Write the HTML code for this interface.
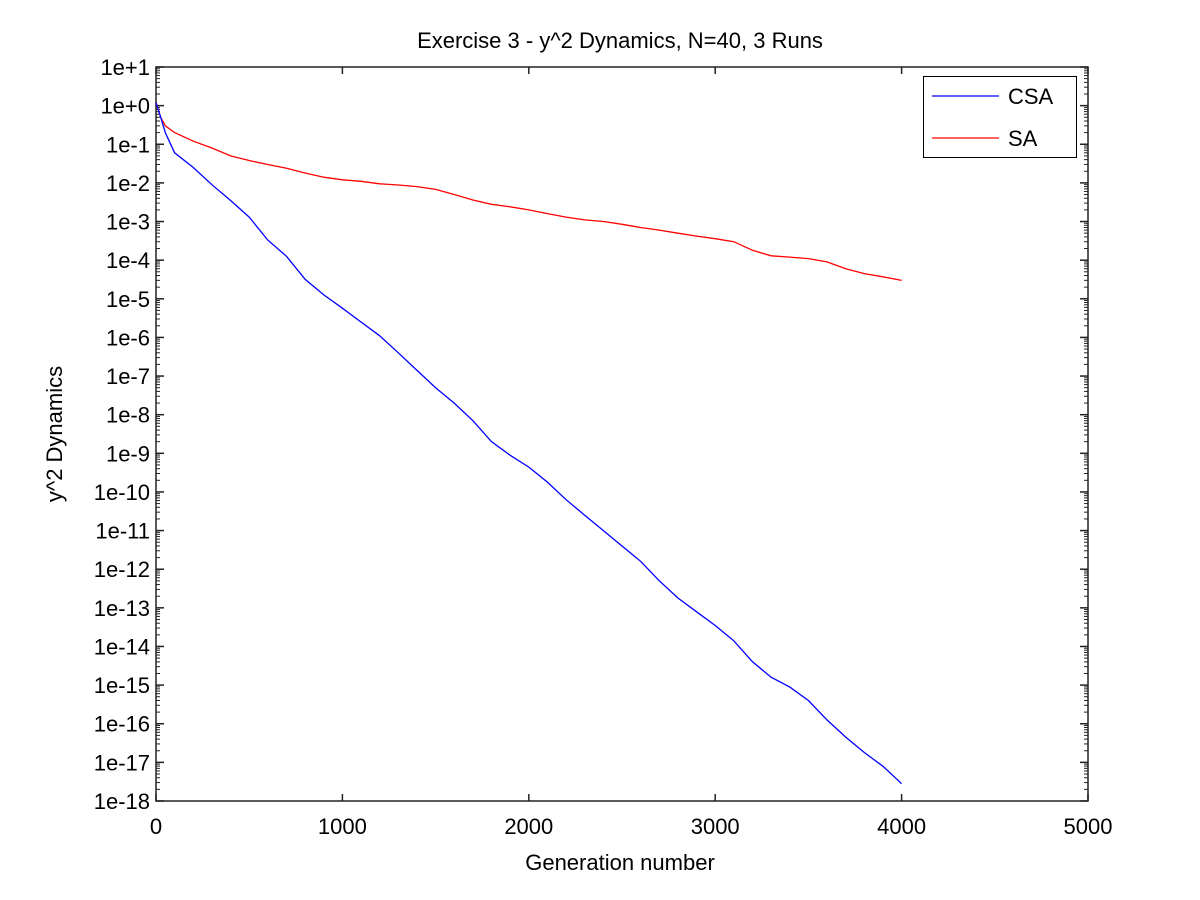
<!DOCTYPE html>
<html><head><meta charset="utf-8"><style>
body{margin:0;background:#fff}
svg{display:block;font-family:"Liberation Sans",sans-serif}
</style></head><body>
<svg id="chart" width="1200" height="900">
<text x="620" y="48" font-size="22" text-anchor="middle">Exercise 3 - y^2 Dynamics, N=40, 3 Runs</text>
<text x="620" y="870" font-size="22" text-anchor="middle">Generation number</text>
<text transform="translate(62,434) rotate(-90)" font-size="22" text-anchor="middle">y^2 Dynamics</text>
<g id="axes"></g>
<g id="series"></g>
<g>
<rect x="923.5" y="76.5" width="153" height="81" fill="#fff" stroke="#000" stroke-width="1"/>
<line x1="932" y1="96" x2="999" y2="96" stroke="#0000ff" stroke-width="1.2"/>
<text x="1008" y="104" font-size="22">CSA</text>
<line x1="932" y1="138" x2="999" y2="138" stroke="#ff0000" stroke-width="1.2"/>
<text x="1008" y="146" font-size="22">SA</text>
</g>
</svg>
<script>
const xTicks=[0,1000,2000,3000,4000,5000];
const yExps=[1,0,-1,-2,-3,-4,-5,-6,-7,-8,-9,-10,-11,-12,-13,-14,-15,-16,-17,-18];
const yTickLabels=["1e+1","1e+0","1e-1","1e-2","1e-3","1e-4","1e-5","1e-6","1e-7","1e-8","1e-9","1e-10","1e-11","1e-12","1e-13","1e-14","1e-15","1e-16","1e-17","1e-18"];
const genX=[0,25,50,100,200,300,400,500,600,700,800,900,1000,1100,1200,1300,1400,1500,1600,1700,1800,1900,2000,2100,2200,2300,2400,2500,2600,2700,2800,2900,3000,3100,3200,3300,3400,3500,3600,3700,3800,3900,4000];
const csaY=[1.2,0.5,0.2,6e-2,2.5e-2,9e-3,3.5e-3,1.3e-3,3.3e-4,1.26e-4,3.2e-5,1.26e-5,5.7e-6,2.5e-6,1.1e-6,4e-7,1.4e-7,5e-8,2e-8,7e-9,2e-9,8.9e-10,4.4e-10,1.8e-10,6.3e-11,2.5e-11,1e-11,4e-12,1.6e-12,5e-13,1.8e-13,7.9e-14,3.5e-14,1.4e-14,4e-15,1.6e-15,8.9e-16,4e-16,1.26e-16,4.5e-17,1.8e-17,7.9e-18,2.8e-18];
const saY=[1.2,0.5,0.3,0.2,0.12,0.08,0.05,0.038,0.03,0.024,0.018,0.014,0.012,0.011,0.0095,0.0088,0.008,0.0068,0.005,0.0036,0.0028,0.0024,0.002,0.0016,0.0013,0.0011,0.001,0.00085,0.0007,0.0006,0.0005,0.00042,0.00036,0.0003,0.00018,0.00013,0.00012,0.00011,0.00009,0.00006,0.000045,0.000037,0.00003];
const X0=156,X1=1088,Y0=67,Y1=801;
const xs=v=>X0+(v-0)/(5000)*(X1-X0);
const ys=v=>Y0+(1-Math.log10(v))/19*(Y1-Y0);
const NS="http://www.w3.org/2000/svg";
const axes=document.getElementById('axes');
function mk(tag,attrs,parent){const e=document.createElementNS(NS,tag);for(const k in attrs)e.setAttribute(k,attrs[k]);parent.appendChild(e);return e;}
const frame=mk('rect',{x:X0,y:Y0,width:X1-X0,height:Y1-Y0,fill:'none',stroke:'#222','stroke-width':1.5},axes);


xTicks.forEach(t=>{const x=xs(t);
 mk('line',{x1:x,y1:Y1,x2:x,y2:Y1-7,stroke:'#222','stroke-width':1.5},axes);
 mk('line',{x1:x,y1:Y0,x2:x,y2:Y0+7,stroke:'#222','stroke-width':1.5},axes);
 const tx=mk('text',{x:x,y:Y1+33,'font-size':22,'text-anchor':'middle'},axes);tx.textContent=t;
 
 
});
yExps.forEach((e,i)=>{const y=ys(Math.pow(10,e));
 mk('line',{x1:X0,y1:y,x2:X0+8,y2:y,stroke:'#222','stroke-width':1.5},axes);
 mk('line',{x1:X1,y1:y,x2:X1-8,y2:y,stroke:'#222','stroke-width':1.5},axes);
 if(e>-18){for(let m=2;m<10;m++){const yy=ys(m*Math.pow(10,e-1));
  mk('line',{x1:X0,y1:yy,x2:X0+4,y2:yy,stroke:'#222','stroke-width':1},axes);
  mk('line',{x1:X1,y1:yy,x2:X1-4,y2:yy,stroke:'#222','stroke-width':1},axes);}}
 const tx=mk('text',{x:X0-6,y:y+8,'font-size':22,'text-anchor':'end'},axes);tx.textContent=yTickLabels[i];
 
 
});
const ser=document.getElementById('series');
function line(arr,color,name){const d=genX.map((g,i)=>(i?'L':'M')+xs(g).toFixed(1)+','+ys(arr[i]).toFixed(1)).join(' ');
 const p=mk('path',{d:d,fill:'none',stroke:color,'stroke-width':1.3},ser);
 
 }
line(saY,'#ff0000','sa-line');
line(csaY,'#0000ff','csa-line');
</script>
</body></html>
